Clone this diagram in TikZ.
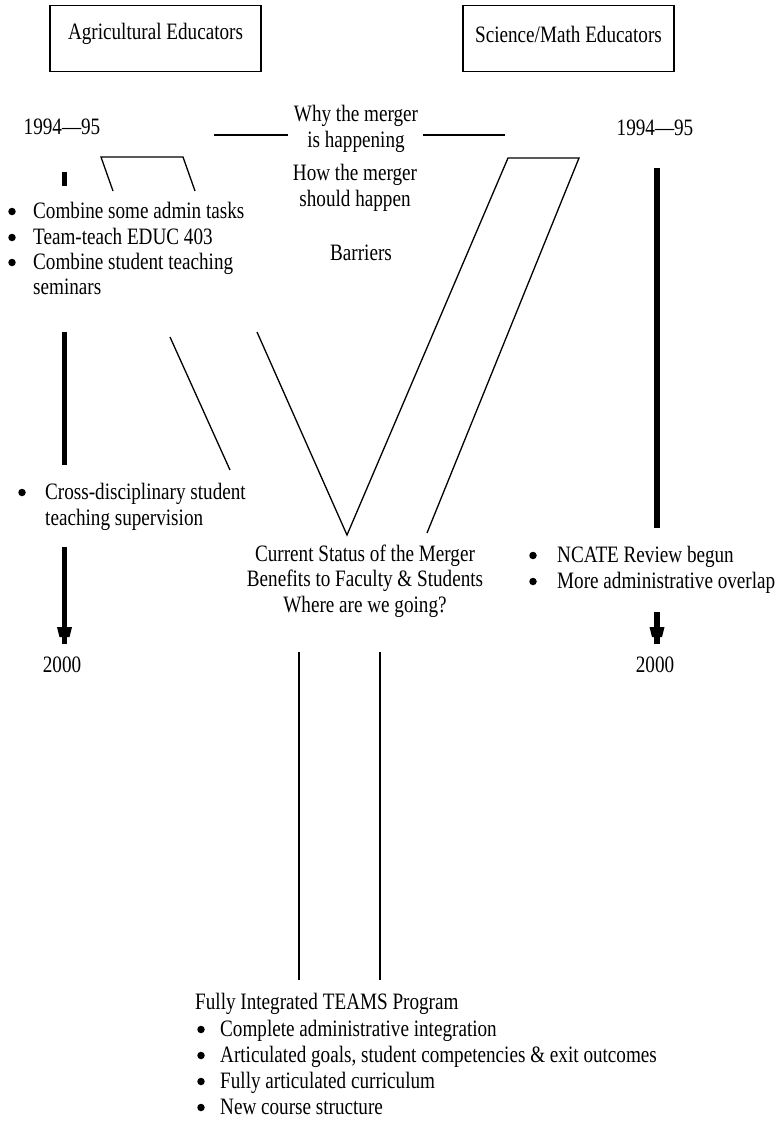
\documentclass[tikz,border=0pt]{standalone}
\usepackage{fontspec}
\setmainfont{Liberation Serif}[FakeStretch=0.815]
\usetikzlibrary{arrows.meta}
\begin{document}
\begin{tikzpicture}[x=1pt,y=-1pt,
  txt/.style={inner sep=0pt, font=\fontsize{23.5}{25.5}\selectfont},
  bul/.style={circle, fill=black, inner sep=0pt, minimum size=7.5pt},
  item/.style={txt, anchor=base west},
  thinline/.style={line width=1.3pt, line join=miter},
  timeline/.style={line width=5.5pt},
  head/.style={fill=black},
  header/.style={draw, line width=1.8pt, minimum width=211pt, minimum height=66pt, inner sep=0pt}]
\useasboundingbox (0,0) rectangle (783,1148);

% header boxes
\node[header] (agbox) at (155.5,38.5) {};
\node[txt] (ag) at (155.5,34) {Agricultural Educators};
\node[header] (smbox) at (568.5,38.5) {};
\node[txt] (sm) at (568.5,34) {Science/Math Educators};

% years
\node[txt] (yl) at (62,127) {1994—95};
\node[txt] (yr) at (655,128) {1994—95};
\node[txt] (el) at (62,665) {2000};
\node[txt] (er) at (655,665) {2000};

% centre column
\node[txt, align=center] (why) at (356,129) {Why the merger\\is happening};
\node[txt, align=center] (how) at (355,188) {How the merger\\should happen};
\node[txt] (bar) at (361,253) {Barriers};
\node[txt, align=center] (cur) at (365,581) {Current Status of the Merger\\Benefits to Faculty \& Students\\Where are we going?};

% left list 1
\node[bul] (b1) at (12,211.5) {};
\node[item] (l1) at (33,218) {Combine some admin tasks};
\node[bul] (b2) at (12,237.5) {};
\node[item] (l2) at (33,244) {Team-teach EDUC 403};
\node[bul] (b3) at (12,262.5) {};
\node[item] (l3) at (33,269) {Combine student teaching};
\node[item] (l3b) at (33,294) {seminars};

% left list 2
\node[bul] (b4) at (22,492.5) {};
\node[item] (l4) at (45,499) {Cross-disciplinary student};
\node[item] (l4b) at (45,525) {teaching supervision};

% right list
\node[bul] (b5) at (533,555.5) {};
\node[item] (r1) at (557,562) {NCATE Review begun};
\node[bul] (b6) at (533,581.5) {};
\node[item] (r2) at (557,588) {More administrative overlap};

% bottom
\node[item] (fi) at (195,1009) {Fully Integrated TEAMS Program};
\node[bul] (b7) at (201,1029.5) {};
\node[item] (f1) at (220,1036) {Complete administrative integration};
\node[bul] (b8) at (201,1055.5) {};
\node[item] (f2) at (220,1062) {Articulated goals, student competencies \& exit outcomes};
\node[bul] (b9) at (201,1081.5) {};
\node[item] (f3) at (220,1088) {Fully articulated curriculum};
\node[bul] (b10) at (201,1107.5) {};
\node[item] (f4) at (220,1114) {New course structure};

% coordinates
\coordinate (hl1) at (214,135); \coordinate (hl2) at (288,135);
\coordinate (hr1) at (423,135); \coordinate (hr2) at (505,135);
\coordinate (t1) at (113,191); \coordinate (t2) at (101,157);
\coordinate (t3) at (183,157); \coordinate (t4) at (195,191);
\coordinate (sl1) at (64.5,172); \coordinate (sl2) at (64.5,186);
\coordinate (ml1) at (64.5,332); \coordinate (ml2) at (64.5,465);
\coordinate (al1) at (64.5,547); \coordinate (al2) at (64.5,644);
\coordinate (mr1) at (657,168); \coordinate (mr2) at (657,528);
\coordinate (ar1) at (657,612); \coordinate (ar2) at (657,644);
\coordinate (d1) at (170,337); \coordinate (d2) at (230,470);
\coordinate (v1) at (257,332); \coordinate (v2) at (347,535);
\coordinate (v3) at (508,158); \coordinate (v4) at (579,158);
\coordinate (v5) at (427,533);
\coordinate (p1) at (299,652); \coordinate (p2) at (299,980);
\coordinate (q1) at (380,652); \coordinate (q2) at (380,980);

% thin connectors
\draw[thinline] (hl1) -- (hl2);
\draw[thinline] (hr1) -- (hr2);
\draw[thinline] (t1) -- (t2) -- (t3) -- (t4);
\draw[thinline] (d1) -- (d2);
\draw[thinline] (v1) -- (v2) -- (v3) -- (v4) -- (v5);
\draw[thinline] (p1) -- (p2);
\draw[thinline] (q1) -- (q2);

% timelines
\draw[timeline] (sl1) -- (sl2);
\draw[timeline] (ml1) -- (ml2);
\draw[timeline] (al1) -- (al2);
\fill[head] ([shift={(-7.5,-17)}]al2) -- ++(15,0) -- ++(-2.5,10) -- ++(-10,0) -- cycle;
\draw[timeline] (mr1) -- (mr2);
\draw[timeline] (ar1) -- (ar2);
\fill[head] ([shift={(-7.5,-17)}]ar2) -- ++(15,0) -- ++(-2.5,10) -- ++(-10,0) -- cycle;
\end{tikzpicture}
\end{document}
